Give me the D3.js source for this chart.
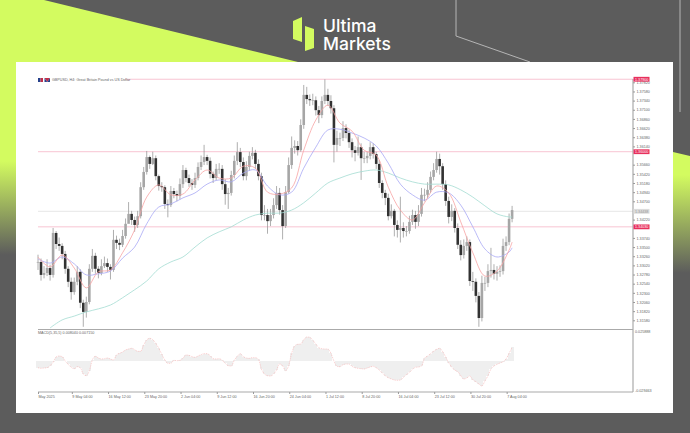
<!DOCTYPE html>
<html>
<head>
<meta charset="utf-8">
<script src="https://cdn.jsdelivr.net/npm/d3@7"></script>
<style>
  html, body { margin: 0; padding: 0; background: #5c5c5c; }
  svg { display: block; }
  .small { font-family: "Liberation Sans", sans-serif; font-size: 3.7px; fill: #666; }
  .axis path, .axis line { stroke: #999; }
</style>
</head>
<body>
<div id="chart"></div>
<script>
// values, H4 bars
var closes = [1.3311,1.3277,1.3282,1.3295,1.3277,1.3387,1.3358,1.3353,1.3332,1.3293,1.3259,1.3232,1.3259,1.3285,1.3204,1.3180,1.3206,1.3293,1.3327,1.3293,1.3282,1.3300,1.3308,1.3298,1.3290,1.3369,1.3361,1.3356,1.3379,1.3411,1.3437,1.3421,1.3408,1.3431,1.3507,1.3547,1.3586,1.3568,1.3583,1.3536,1.3510,1.3507,1.3463,1.3460,1.3497,1.3489,1.3484,1.3515,1.3552,1.3531,1.3518,1.3513,1.3531,1.3560,1.3573,1.3586,1.3576,1.3542,1.3531,1.3555,1.3555,1.3515,1.3489,1.3492,1.3539,1.3576,1.3599,1.3573,1.3536,1.3560,1.3589,1.3597,1.3568,1.3536,1.3434,1.3434,1.3418,1.3434,1.3460,1.3492,1.3447,1.3405,1.3494,1.3565,1.3610,1.3615,1.3604,1.3670,1.3749,1.3738,1.3735,1.3735,1.3709,1.3696,1.3733,1.3749,1.3733,1.3714,1.3618,1.3636,1.3636,1.3662,1.3649,1.3625,1.3604,1.3597,1.3612,1.3583,1.3583,1.3589,1.3612,1.3594,1.3568,1.3518,1.3492,1.3479,1.3431,1.3445,1.3408,1.3395,1.3400,1.3392,1.3392,1.3416,1.3434,1.3416,1.3437,1.3487,1.3487,1.3500,1.3534,1.3552,1.3581,1.3562,1.3515,1.3471,1.3429,1.3445,1.3400,1.3356,1.3329,1.3353,1.3363,1.3261,1.3259,1.3222,1.3164,1.3256,1.3256,1.3287,1.3290,1.3280,1.3285,1.3287,1.3353,1.3363,1.3424,1.3447];
var highs = [1.3330,1.3320,1.3300,1.3318,1.3304,1.3400,1.3392,1.3375,1.3360,1.3340,1.3300,1.3270,1.3270,1.3300,1.3292,1.3212,1.3220,1.3305,1.3345,1.3335,1.3300,1.3318,1.3325,1.3320,1.3305,1.3395,1.3380,1.3372,1.3395,1.3425,1.3468,1.3445,1.3430,1.3445,1.3520,1.3560,1.3602,1.3590,1.3600,1.3590,1.3540,1.3520,1.3512,1.3475,1.3510,1.3505,1.3498,1.3530,1.3565,1.3558,1.3540,1.3528,1.3545,1.3572,1.3590,1.3618,1.3592,1.3585,1.3548,1.3568,1.3570,1.3565,1.3528,1.3505,1.3550,1.3590,1.3625,1.3610,1.3585,1.3575,1.3600,1.3612,1.3605,1.3580,1.3545,1.3460,1.3450,1.3450,1.3478,1.3510,1.3505,1.3460,1.3510,1.3585,1.3640,1.3630,1.3628,1.3685,1.3775,1.3770,1.3750,1.3752,1.3745,1.3720,1.3745,1.3790,1.3765,1.3748,1.3722,1.3655,1.3650,1.3680,1.3672,1.3658,1.3635,1.3615,1.3640,1.3622,1.3600,1.3600,1.3625,1.3622,1.3600,1.3578,1.3525,1.3500,1.3490,1.3462,1.3450,1.3420,1.3482,1.3415,1.3405,1.3432,1.3448,1.3445,1.3460,1.3505,1.3503,1.3520,1.3548,1.3570,1.3600,1.3595,1.3570,1.3525,1.3482,1.3462,1.3452,1.3412,1.3368,1.3370,1.3378,1.3370,1.3285,1.3268,1.3232,1.3275,1.3272,1.3305,1.3348,1.3305,1.3300,1.3302,1.3372,1.3378,1.3438,1.3458];
var lows = [1.3290,1.3262,1.3268,1.3274,1.3262,1.3270,1.3345,1.3340,1.3318,1.3280,1.3245,1.3212,1.3225,1.3250,1.3190,1.3141,1.3165,1.3200,1.3285,1.3280,1.3268,1.3276,1.3295,1.3285,1.3265,1.3285,1.3345,1.3342,1.3350,1.3372,1.3425,1.3408,1.3390,1.3400,1.3425,1.3500,1.3540,1.3555,1.3565,1.3525,1.3498,1.3495,1.3450,1.3428,1.3455,1.3478,1.3470,1.3475,1.3505,1.3520,1.3508,1.3500,1.3505,1.3525,1.3552,1.3565,1.3565,1.3530,1.3518,1.3525,1.3542,1.3500,1.3461,1.3450,1.3485,1.3530,1.3565,1.3560,1.3525,1.3525,1.3550,1.3580,1.3555,1.3525,1.3420,1.3420,1.3385,1.3405,1.3425,1.3450,1.3435,1.3370,1.3400,1.3490,1.3555,1.3595,1.3590,1.3600,1.3660,1.3725,1.3720,1.3722,1.3695,1.3675,1.3688,1.3725,1.3720,1.3700,1.3572,1.3600,1.3615,1.3628,1.3635,1.3610,1.3585,1.3575,1.3590,1.3526,1.3570,1.3570,1.3580,1.3582,1.3555,1.3505,1.3478,1.3460,1.3420,1.3425,1.3378,1.3375,1.3362,1.3375,1.3378,1.3385,1.3408,1.3398,1.3405,1.3430,1.3470,1.3478,1.3492,1.3525,1.3545,1.3540,1.3500,1.3458,1.3412,1.3418,1.3388,1.3345,1.3315,1.3320,1.3340,1.3248,1.3235,1.3205,1.3141,1.3155,1.3235,1.3245,1.3270,1.3265,1.3262,1.3272,1.3278,1.3340,1.3355,1.3415];

// moving averages, read every fourth bar
var maBars = [0,4,8,12,16,20,24,28,32,36,40,44,48,52,56,60,64,68,72,76,80,84,88,92,96,100,104,108,112,116,120,124,128,132,136,140,144,148,152,156,157];
var maFast = [1.3324,1.3298,1.3329,1.3295,1.3243,1.3285,1.3290,1.3335,1.3395,1.3481,1.3513,1.3487,1.3489,1.3526,1.3552,1.3531,1.3531,1.3562,1.3557,1.3494,1.3489,1.3505,1.3604,1.3683,1.3722,1.3675,1.3654,1.3604,1.3591,1.3507,1.3447,1.3421,1.3466,1.3510,1.3492,1.3416,1.3335,1.3274,1.3287,1.3342,1.3363];
var maMid = [1.3319,1.3308,1.3324,1.3306,1.3277,1.3280,1.3287,1.3321,1.3350,1.3411,1.3455,1.3463,1.3479,1.3492,1.3515,1.3526,1.3521,1.3544,1.3552,1.3510,1.3487,1.3494,1.3557,1.3612,1.3657,1.3659,1.3649,1.3636,1.3615,1.3570,1.3515,1.3487,1.3473,1.3494,1.3492,1.3460,1.3403,1.3345,1.3324,1.3337,1.3348];
var maSlow = [null,1.3138,1.3159,1.3169,1.3180,1.3188,1.3198,1.3217,1.3238,1.3261,1.3293,1.3311,1.3324,1.3350,1.3374,1.3390,1.3403,1.3421,1.3434,1.3439,1.3439,1.3447,1.3466,1.3492,1.3518,1.3531,1.3542,1.3549,1.3552,1.3544,1.3531,1.3521,1.3515,1.3515,1.3513,1.3500,1.3481,1.3458,1.3437,1.3429,1.3429];

// MACD per bar, in pips
var macdPips = [-60,-66,-63,-60,-42,-12,36,45,39,0,-30,-57,-69,-51,-60,-117,-132,-87,9,42,27,18,21,27,18,9,54,69,81,99,108,114,102,87,87,144,189,204,192,159,114,60,9,-21,-21,6,3,6,24,54,51,39,33,45,57,66,66,48,21,18,21,6,-21,-42,-45,6,42,66,39,27,24,30,30,15,-72,-117,-132,-135,-117,-81,-27,-42,-87,-42,69,135,150,153,189,216,213,186,153,120,111,108,108,69,0,-48,-51,-33,-27,-27,-48,-60,-66,-69,-72,-63,-54,-48,-60,-81,-108,-132,-150,-162,-171,-174,-171,-147,-123,-102,-75,-57,-54,-45,24,45,66,87,105,114,84,36,-15,-54,-81,-96,-132,-162,-153,-135,-168,-186,-207,-225,-180,-132,-72,-45,-30,-18,-6,18,69,123];

// 1.3398 and 1.3446 sit behind the price tags in the picture
var priceTicks = [1.3782,1.3758,1.3734,1.3710,1.3686,1.3662,1.3638,1.3614,1.3566,1.3542,1.3518,1.3494,1.3470,1.3422,1.3374,1.3350,1.3326,1.3302,1.3278,1.3254,1.3230,1.3206,1.3182,1.3158];
var levels = [1.3790, 1.3600, 1.3403];
var levelLabels = ["1.37900", "1.36000", "1.34030"];
var lastPrice = 1.34438;
var timeBars = [0,11.2,23.2,35.2,47.2,59.2,71.2,83.2,95.2,107.2,119.2,131.2,143.2,155.2];
var timeLabels = ["May 2025","9 May 04:00","16 May 12:00","23 May 20:00","2 Jun 04:00","9 Jun 12:00","16 Jun 20:00","24 Jun 04:00","1 Jul 12:00","8 Jul 20:00","16 Jul 04:00","23 Jul 12:00","30 Jul 20:00","7 Aug 04:00"];

var width = 690, height = 433;
var left = 38, right = 633, mainBottom = 329.5, macdTop = 330, macdBottom = 392;

var svg = d3.select("#chart").append("svg")
    .attr("width", width)
    .attr("height", height);

var defs = svg.append("defs");
var fade = defs.append("linearGradient").attr("id", "fadeLeft").attr("x1", 0).attr("x2", 0).attr("y1", 0).attr("y2", 1);
fade.append("stop").attr("offset", "0").attr("stop-color", "#d3fb60");
fade.append("stop").attr("offset", "0.62").attr("stop-color", "#d3fb60");
fade.append("stop").attr("offset", "0.98").attr("stop-color", "#5c5c5c");
var fadeR = defs.append("linearGradient").attr("id", "fadeRight").attr("x1", 0).attr("x2", 0).attr("y1", 0).attr("y2", 1);
fadeR.append("stop").attr("offset", "0").attr("stop-color", "#d3fb60");
fadeR.append("stop").attr("offset", "0.19").attr("stop-color", "#d3fb60");
fadeR.append("stop").attr("offset", "1").attr("stop-color", "#5c5c5c");
defs.append("filter").attr("id", "soft").append("feGaussianBlur").attr("stdDeviation", 0.4);

// page background
svg.append("rect").attr("width", width).attr("height", height).attr("fill", "#5c5c5c");
svg.append("polygon").attr("points", "0,0 44,0 298,62 16,62 16,260 0,260").attr("fill", "url(#fadeLeft)");
svg.append("polygon").attr("points", "673,152 690,156 690,273 673,273").attr("fill", "url(#fadeRight)");
svg.append("polyline").attr("points", "456,0 456,36 530,62").attr("fill", "none").attr("stroke", "#b5b5b5");
svg.append("line").attr("x1", 680).attr("x2", 680).attr("y1", 0).attr("y2", 112).attr("stroke", "#b5b5b5");
svg.append("rect").attr("x", 16).attr("y", 62).attr("width", 657).attr("height", 351).attr("fill", "#fff");

// logo
svg.append("polygon").attr("points", "293,21 302,17 302,42 293,39").attr("fill", "#d3fb60");
svg.append("polygon").attr("points", "305,26 314,29 314,48 305,51").attr("fill", "#d3fb60");
svg.selectAll(".logo").data([["Ultima", 32], ["Markets", 50]]).enter().append("text")
    .attr("class", "logo")
    .attr("x", 323)
    .attr("y", function (d) { return d[1]; })
    .attr("font-family", "Inter")
    .attr("font-weight", 500)
    .attr("font-size", 17.5)
    .attr("fill", "#fff")
    .text(function (d) { return d[0]; });

var x = d3.scaleLinear().domain([0, 157]).range([left, 512.1]);
var y = d3.scaleLinear().domain([1.3158, 1.3782]).range([320.3, 82.3]);
var m = d3.scaleLinear().domain([-279, 279]).range([macdBottom, macdTop]);

// horizontal levels
svg.selectAll(".level").data(levels).enter().append("line")
    .attr("class", "level")
    .attr("x1", left).attr("x2", right)
    .attr("y1", y).attr("y2", y)
    .attr("stroke", "#f8c4d2");
svg.append("line")
    .attr("x1", left).attr("x2", right)
    .attr("y1", y(lastPrice)).attr("y2", y(lastPrice))
    .attr("stroke", "#e6e6e6");

var plot = svg.append("g").attr("filter", "url(#soft)");

// wicks
plot.selectAll(".wick").data(closes).enter().append("line")
    .attr("class", "wick")
    .attr("x1", function (d, i) { return x(i); })
    .attr("x2", function (d, i) { return x(i); })
    .attr("y1", function (d, i) { return y(highs[i]); })
    .attr("y2", function (d, i) { return y(lows[i]); })
    .attr("stroke", "#9a9a9a")
    .attr("stroke-width", 0.8);

// candle bodies, open taken as the previous close
plot.selectAll(".body").data(closes).enter().append("rect")
    .attr("class", "body")
    .attr("x", function (d, i) { return x(i) - 1.3; })
    .attr("width", 2.6)
    .attr("y", function (d, i) {
        var open = i ? closes[i - 1] : d;
        return y(Math.max(open, d));
    })
    .attr("height", function (d, i) {
        var open = i ? closes[i - 1] : d;
        return Math.max(0.7, Math.abs(y(open) - y(d)));
    })
    .attr("fill", function (d, i) {
        return i && d < closes[i - 1] ? "#333" : "#a6a6a6";
    });

// moving averages
var maLine = d3.line()
    .defined(function (d) { return d !== null; })
    .x(function (d, i) { return x(maBars[i]); })
    .y(function (d) { return y(d); })
    .curve(d3.curveCatmullRom);
plot.append("path").attr("d", maLine(maSlow)).attr("fill", "none").attr("stroke", "#a3dcd2").attr("stroke-width", 0.8);
plot.append("path").attr("d", maLine(maMid)).attr("fill", "none").attr("stroke", "#a8a8f5").attr("stroke-width", 0.8);
plot.append("path").attr("d", maLine(maFast)).attr("fill", "none").attr("stroke", "#f7a3a3").attr("stroke-width", 0.8);

// MACD pane
var macd = svg.append("g");
macd.selectAll(".hist").data(macdPips).enter().append("rect")
    .attr("class", "hist")
    .attr("x", function (d, i) { return x(i) - 1.51; })
    .attr("width", 3.02)
    .attr("y", function (d) { return Math.min(m(0), m(d)); })
    .attr("height", function (d) { return Math.abs(m(d) - m(0)); })
    .attr("shape-rendering", "crispEdges")
    .attr("fill", "#efefef");
macd.append("path")
    .attr("d", d3.line().x(function (d, i) { return x(i); }).y(function (d) { return m(d); }).curve(d3.curveMonotoneX)(macdPips))
    .attr("fill", "none")
    .attr("stroke", "#f8b8b8")
    .attr("stroke-width", 0.7)
    .attr("stroke-dasharray", "1,0.8");

// frame
svg.append("line").attr("x1", left).attr("x2", right).attr("y1", mainBottom).attr("y2", mainBottom).attr("stroke", "#aaa").attr("stroke-width", 1.2);
svg.append("line").attr("x1", left).attr("x2", right).attr("y1", macdBottom).attr("y2", macdBottom).attr("stroke", "#aaa").attr("stroke-width", 1.2);
svg.append("line").attr("x1", right).attr("x2", right).attr("y1", 79).attr("y2", macdBottom).attr("stroke", "#aaa").attr("stroke-width", 1.2);

// price axis
var yAxis = svg.append("g")
    .attr("class", "axis")
    .attr("transform", "translate(" + right + ",0)")
    .call(d3.axisRight(y).tickValues(priceTicks).tickSize(2).tickPadding(1.5).tickFormat(d3.format(".5f")));
yAxis.select(".domain").remove();
yAxis.selectAll("text").attr("class", "small");

// time axis
var xAxis = svg.append("g")
    .attr("class", "axis")
    .attr("transform", "translate(0," + macdBottom + ")")
    .call(d3.axisBottom(x).tickValues(timeBars).tickSize(2).tickPadding(0.5).tickFormat(function (d, i) { return timeLabels[i]; }));
xAxis.select(".domain").remove();
xAxis.selectAll("text").attr("class", "small").attr("text-anchor", "start").attr("dy", "0.9em");

// price labels
var tags = svg.selectAll(".tag").data(levels).enter().append("g").attr("class", "tag");
tags.append("rect")
    .attr("x", right + 0.5).attr("width", 16)
    .attr("y", function (d) { return y(d) - 2.4; })
    .attr("height", 4.8)
    .attr("fill", "#e8305c");
tags.append("text")
    .attr("class", "small")
    .attr("x", right + 2)
    .attr("y", function (d) { return y(d) + 1.3; })
    .style("fill", "#fff")
    .text(function (d, i) { return levelLabels[i]; });
svg.append("rect").attr("x", right + 0.5).attr("width", 16).attr("y", y(lastPrice) - 2.4).attr("height", 4.8).attr("fill", "#dcdcdc");
svg.append("text").attr("class", "small").attr("x", right + 2).attr("y", y(lastPrice) + 1.3).style("fill", "#999").text(d3.format(".5f")(lastPrice));

// macd scale labels
svg.append("text").attr("class", "small").attr("x", right + 2).attr("y", macdTop + 3.2).text("0.025888");
svg.append("text").attr("class", "small").attr("x", right + 2).attr("y", macdBottom - 0.5).text("-0.029463");

// chart titles
svg.append("rect").attr("x", left).attr("y", 77).attr("width", 87).attr("height", 5).attr("fill", "#fff");
svg.append("rect").attr("x", 38).attr("y", 78).attr("width", 2.5).attr("height", 4).attr("fill", "#27408b");
svg.append("rect").attr("x", 40.5).attr("y", 78).attr("width", 2.5).attr("height", 4).attr("fill", "#c0304a");
svg.append("path").attr("d", "M44.5 78 L50 78 L47.2 82 Z").attr("fill", "#c0304a");
svg.append("path").attr("d", "M44.5 78 L47.2 82 L44.5 82 Z M50 78 L50 82 L47.2 82 Z").attr("fill", "#27408b");
svg.append("text").attr("class", "small").attr("x", 52).attr("y", 81.2).text("GBPUSD, H4:  Great Britain Pound vs US Dollar");
svg.append("text").attr("class", "small").attr("x", 38).attr("y", 334.4).text("MACD(5,35,5) 0.008040 0.007150");
</script>
</body>
</html>
